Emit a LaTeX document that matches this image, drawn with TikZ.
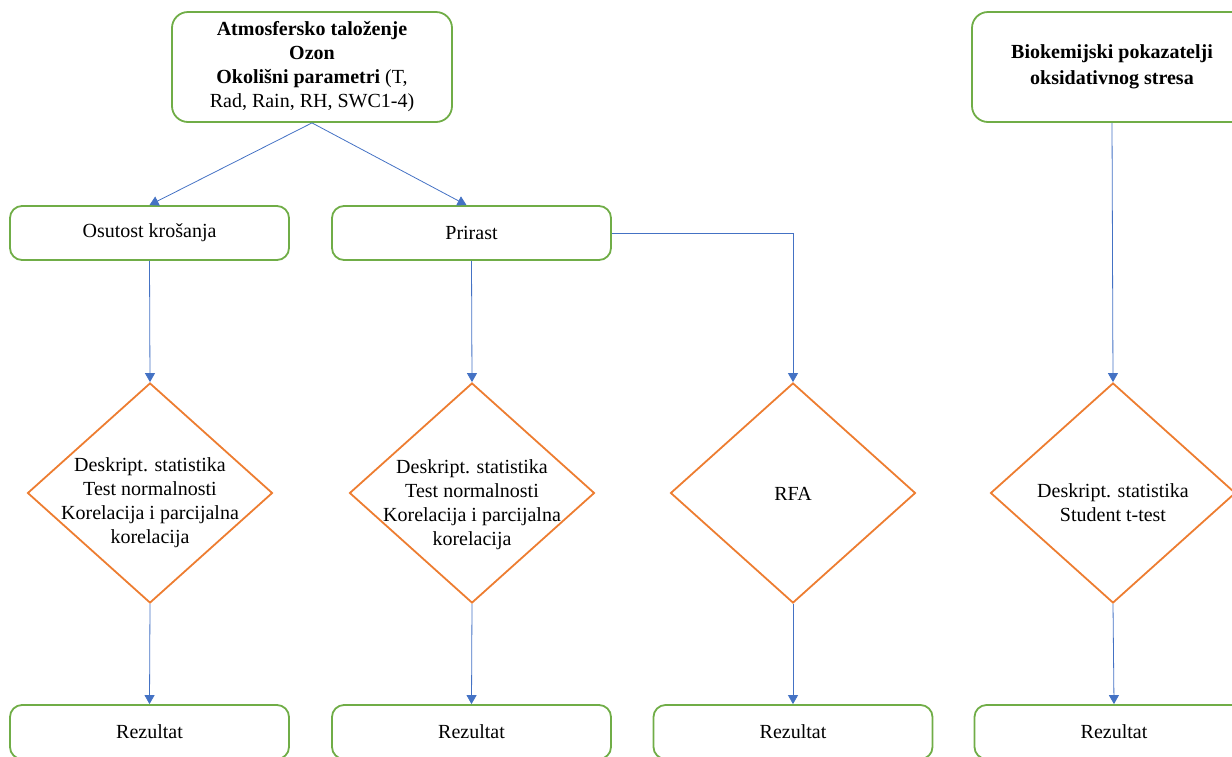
\documentclass[tikz,border=0pt]{standalone}
\usepackage{fontspec}
\setmainfont{Liberation Serif}
\usetikzlibrary{shapes.geometric,arrows.meta}
\definecolor{boxgreen}{HTML}{70AD47}
\definecolor{diaorange}{HTML}{ED7D31}
\definecolor{arrowblue}{HTML}{4472C4}
\begin{document}
\begin{tikzpicture}[x=1pt,y=-1pt,
	font=\fontsize{20}{24}\selectfont,
	box/.style={draw=boxgreen,line width=1.8pt,rounded corners=12pt,minimum width=279pt,minimum height=54pt,align=center,inner sep=0pt},
	bigbox/.style={box,rounded corners=16pt,minimum width=280pt,minimum height=110pt},
	dia/.style={draw=diaorange,line width=1.8pt,diamond,inner sep=0pt,minimum width=245pt,minimum height=220pt},
	diatext/.style={align=center,inner sep=0pt},
	conn/.style={draw=arrowblue,line width=0.8pt,-{Triangle[width=10pt,length=9pt]}}]
	\useasboundingbox (0,0) rectangle (1232,756);
	\node[bigbox] (atmo) at (312,67) {\textbf{Atmosfersko taloženje}\\\textbf{Ozon}\\\textbf{Okolišni parametri} (T,\\Rad, Rain, RH, SWC1-4)};
	\node[bigbox,font=\fontsize{20}{26}\selectfont] (bio) at (1112,67) {\textbf{Biokemijski pokazatelji}\\\textbf{oksidativnog stresa}};
	\node[box] (osut) at (149.5,233) {Osutost krošanja};
	\node[box] (prir) at (471.5,233) {Prirast};
	\node[dia] (d1) at (150,493) {};
	\node[dia] (d2) at (472,493) {};
	\node[dia] (d3) at (793,493) {};
	\node[dia] (d4) at (1113,493) {};
	\node[diatext] (t1) at (150,503) {Deskript. statistika\\Test normalnosti\\Korelacija i parcijalna\\korelacija};
	\node[diatext] (t2) at (472,505) {Deskript. statistika\\Test normalnosti\\Korelacija i parcijalna\\korelacija};
	\node[diatext] (t3) at (793,494) {RFA};
	\node[diatext] (t4) at (1113,503) {Deskript. statistika\\Student t-test};
	\node[box] (r1) at (149.5,732) {Rezultat};
	\node[box] (r2) at (471.5,732) {Rezultat};
	\node[box] (r3) at (793,732) {Rezultat};
	\node[box] (r4) at (1114,732) {Rezultat};
	\draw[conn] (atmo.south) -- (osut.north);
	\draw[conn] (atmo.south) -- ([xshift=-5pt]prir.north);
	\draw[conn] (osut.south) -- (d1.north);
	\draw[conn] (prir.south) -- (d2.north);
	\draw[conn] (prir.east) -| (d3.north);
	\draw[conn] (bio.south) -- (d4.north);
	\draw[conn] (d1.south) -- (r1.north);
	\draw[conn] (d2.south) -- (r2.north);
	\draw[conn] (d3.south) -- (r3.north);
	\draw[conn] (d4.south) -- (r4.north);
\end{tikzpicture}
\end{document}
